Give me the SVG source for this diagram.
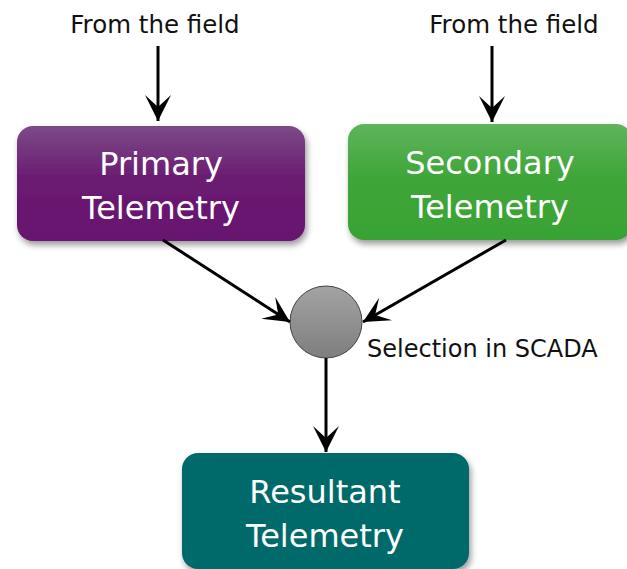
<svg xmlns="http://www.w3.org/2000/svg" width="627" height="569" viewBox="0 0 627 569">
  <defs>
    <style>
      .lbl { font-family: "DejaVu Sans", Verdana, sans-serif; fill: #111; }
      .big { font-family: "DejaVu Sans", Verdana, sans-serif; font-size: 32px; fill: #fff; text-anchor: middle; }
      .conn { stroke: #000; stroke-width: 3; fill: none; marker-end: url(#arr); }
    </style>
    <marker id="arr" markerUnits="userSpaceOnUse" markerWidth="30" markerHeight="30" viewBox="-28 -15 30 30" refX="0" refY="0" orient="auto">
      <path d="M0,0 L-26,-13 L-14,0 L-26,13 Z" fill="#000"/>
    </marker>
    <linearGradient id="gP" x1="0" y1="0" x2="0" y2="1">
      <stop offset="0" stop-color="#7d4a87"/>
      <stop offset="0.45" stop-color="#6a1c72"/>
      <stop offset="1" stop-color="#66136e"/>
    </linearGradient>
    <linearGradient id="gS" x1="0" y1="0" x2="0" y2="1">
      <stop offset="0" stop-color="#5fb45c"/>
      <stop offset="0.45" stop-color="#3fa63a"/>
      <stop offset="1" stop-color="#38a333"/>
    </linearGradient>
    <linearGradient id="gC" x1="0" y1="0" x2="0" y2="1">
      <stop offset="0" stop-color="#a3a3a3"/>
      <stop offset="1" stop-color="#7e7e7e"/>
    </linearGradient>
    <filter id="sh" x="-10%" y="-10%" width="125%" height="135%">
      <feDropShadow dx="2" dy="4" stdDeviation="3" flood-color="#000" flood-opacity="0.4"/>
    </filter>
  </defs>

  <g id="field-left">
    <text class="lbl" x="155" y="33" font-size="24.5" text-anchor="middle">From the field</text>
  </g>
  <g id="field-right">
    <text class="lbl" x="514" y="33" font-size="24.5" text-anchor="middle">From the field</text>
  </g>

  <g id="primary">
    <rect x="17" y="126" width="288" height="115" rx="16" fill="url(#gP)" filter="url(#sh)"/>
    <text class="big" x="161" y="175">Primary</text>
    <text class="big" x="161" y="219">Telemetry</text>
  </g>

  <g id="secondary">
    <rect x="348" y="124" width="284" height="116" rx="16" fill="url(#gS)" filter="url(#sh)"/>
    <text class="big" x="490" y="174">Secondary</text>
    <text class="big" x="490" y="218">Telemetry</text>
  </g>

  <g id="selection">
    <circle cx="326" cy="322" r="36" fill="url(#gC)" stroke="#444" stroke-width="1"/>
    <text class="lbl" x="367" y="357" font-size="24">Selection in SCADA</text>
  </g>

  <g id="resultant">
    <rect x="182" y="453" width="287" height="116" rx="16" fill="#016b6b" filter="url(#sh)"/>
    <text class="big" x="325" y="503">Resultant</text>
    <text class="big" x="325" y="547">Telemetry</text>
  </g>

  <g id="connectors">
    <line class="conn" x1="158" y1="46" x2="158" y2="121"/>
    <line class="conn" x1="492" y1="46" x2="492" y2="122"/>
    <line class="conn" x1="163" y1="240" x2="290" y2="322"/>
    <line class="conn" x1="506" y1="240" x2="363" y2="322"/>
    <line class="conn" x1="326" y1="358" x2="326" y2="452"/>
  </g>
</svg>
